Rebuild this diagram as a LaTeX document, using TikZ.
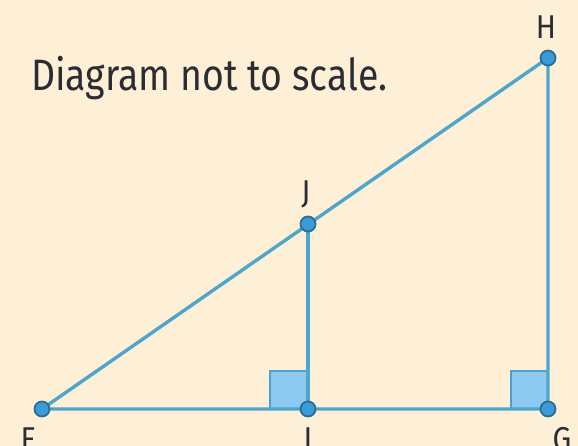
\documentclass[tikz,border=0pt]{standalone}
\usepackage{fontspec}
\setmainfont{Fira Sans}
\definecolor{bg}{HTML}{FEF0D6}
\definecolor{seg}{HTML}{4FA6CC}
\definecolor{dotfill}{HTML}{3B9BD8}
\definecolor{dotdraw}{HTML}{2B6E96}
\definecolor{sqfill}{HTML}{8DC9F0}
\definecolor{sqdraw}{HTML}{4C9FD0}
\definecolor{txt}{HTML}{2A2D33}
\begin{document}
\begin{tikzpicture}[x=1pt,y=-1pt,
  pt/.style={circle,fill=dotfill,draw=dotdraw,line width=1.8pt,minimum size=15pt,inner sep=0pt},
  lbl/.style={text=txt,font=\fontsize{33}{33}\selectfont,inner sep=0pt,anchor=base,xscale=0.9},
  segline/.style={draw=seg,line width=3.4pt},
  rsq/.style={fill=sqfill,draw=sqdraw,line width=2.4pt}]
\fill[bg] (0,0) rectangle (578,446);
\useasboundingbox (0,0) rectangle (578,446);
\coordinate (F) at (42,409);
\coordinate (I) at (308,409);
\coordinate (G) at (548,409);
\coordinate (J) at (308,224);
\coordinate (H) at (548,58);
\filldraw[rsq] (270,371) rectangle (I);
\filldraw[rsq] (511,371) rectangle (G);
\draw[segline] (F) -- (G) -- (H) -- (F);
\draw[segline] (I) -- (J);
\node[pt] (nF) at (F) {};
\node[pt] (nI) at (I) {};
\node[pt] (nG) at (G) {};
\node[pt] (nJ) at (J) {};
\node[pt] (nH) at (H) {};
\node[lbl] (lH) at (546,39) {H};
\node[lbl] (lJ) at (306,204) {J};
\node[lbl] (lF) at (28,450) {F};
\node[lbl] (lI) at (308,450) {I};
\node[lbl] (lG) at (562,450) {G};
\node[text=txt,font=\fontsize{44}{44}\selectfont,inner sep=0pt,anchor=base west,xscale=0.85] (title) at (31,91) {Diagram not to scale.};
\end{tikzpicture}
\end{document}
